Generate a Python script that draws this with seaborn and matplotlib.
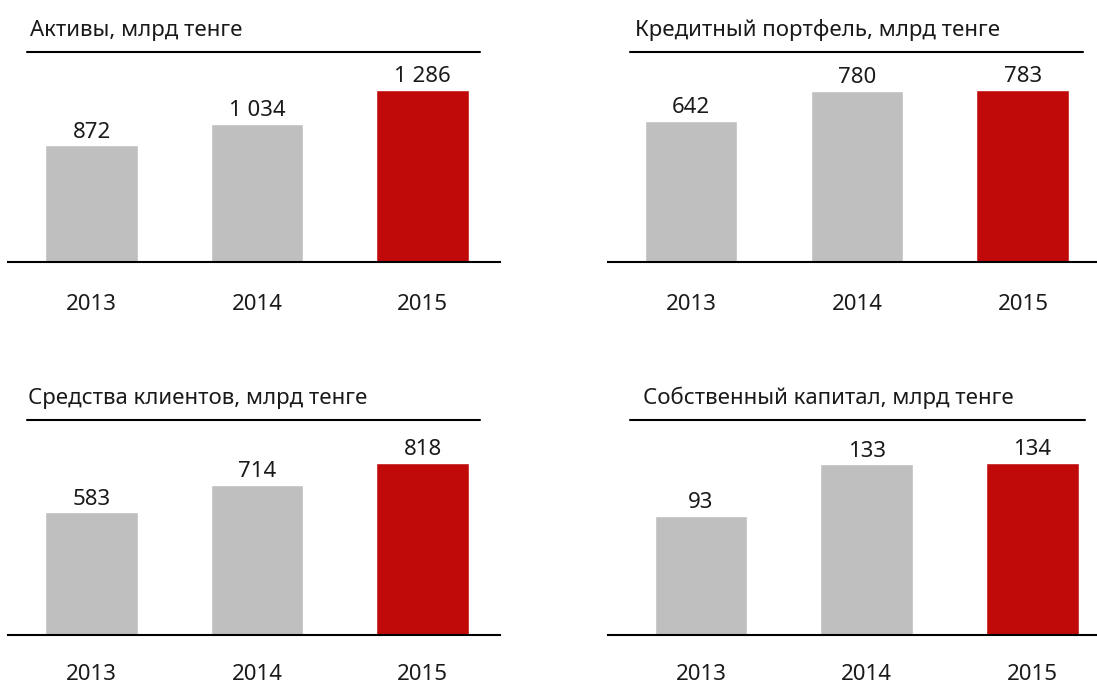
import matplotlib
matplotlib.use("Agg")
import matplotlib.pyplot as plt
import seaborn as sns

# data
years = ["2013", "2014", "2015"]
titles = [
    "Активы, млрд тенге",
    "Кредитный портфель, млрд тенге",
    "Средства клиентов, млрд тенге",
    "Собственный капитал, млрд тенге",
]
assets = [872, 1034, 1286]
loans = [642, 780, 783]
deposits = [583, 714, 818]
equity = [93, 133, 134]

GREY = "#BFBFBF"
RED = "#C00A0A"
bar_colors = [GREY, GREY, RED]

sns.set_theme(style="white")
plt.rcParams["font.family"] = ["Noto Sans", "DejaVu Sans"]

W, H = 1097, 684
fig = plt.figure(figsize=(W / 100, H / 100), dpi=100)

# panel layout in pixels: (left, right, top line y, baseline y, xlim, title line span, title x, year pad)
layout = [
    (8, 500, 52, 262, (-0.505, 2.468), (0.039, 0.959), 30, 23),
    (608, 1097, 52, 262, (-0.50, 2.446), (0.045, 0.971), 635, 23),
    (8, 500, 420, 635, (-0.505, 2.468), (0.039, 0.959), 28, 21),
    (608, 1097, 420, 635, (-0.561, 2.389), (0.045, 0.975), 643, 21),
]
series = [assets, loans, deposits, equity]
bar_px = 172  # tallest bar height in pixels
FS = 16
TXT = "#1a1a1a"


def fmt(v):
    return f"{v:,}".replace(",", " ")


for (l, r, t, b, xlim, span, tx, pad), title, vals in zip(layout, titles, series):
    ax = fig.add_axes([l / W, (H - b) / H, (r - l) / W, (b - t) / H])
    sns.barplot(x=years, y=vals, hue=years, palette=bar_colors, legend=False,
                width=0.56, saturation=1, ax=ax)
    ax.set_xlim(*xlim)
    ax.set_ylim(0, max(vals) * (b - t) / bar_px)
    for cont in ax.containers:
        ax.bar_label(cont, labels=[fmt(int(round(p.get_height()))) for p in cont],
                     padding=2, fontsize=FS, color=TXT)
    for s in ["top", "right", "left"]:
        ax.spines[s].set_visible(False)
    ax.spines["bottom"].set_color("black")
    ax.spines["bottom"].set_linewidth(1.5)
    ax.set_yticks([])
    ax.set_xlabel("")
    ax.set_ylabel("")
    ax.tick_params(axis="x", length=0, pad=pad, labelsize=FS, labelcolor=TXT)
    ax.axhline(ax.get_ylim()[1], xmin=span[0], xmax=span[1], color="black",
               lw=1.5, clip_on=False)
    fig.text(tx / W, (H - t + 16) / H, title, fontsize=FS, color=TXT,
             ha="left", va="baseline")

fig.savefig("out.png", dpi=100)
